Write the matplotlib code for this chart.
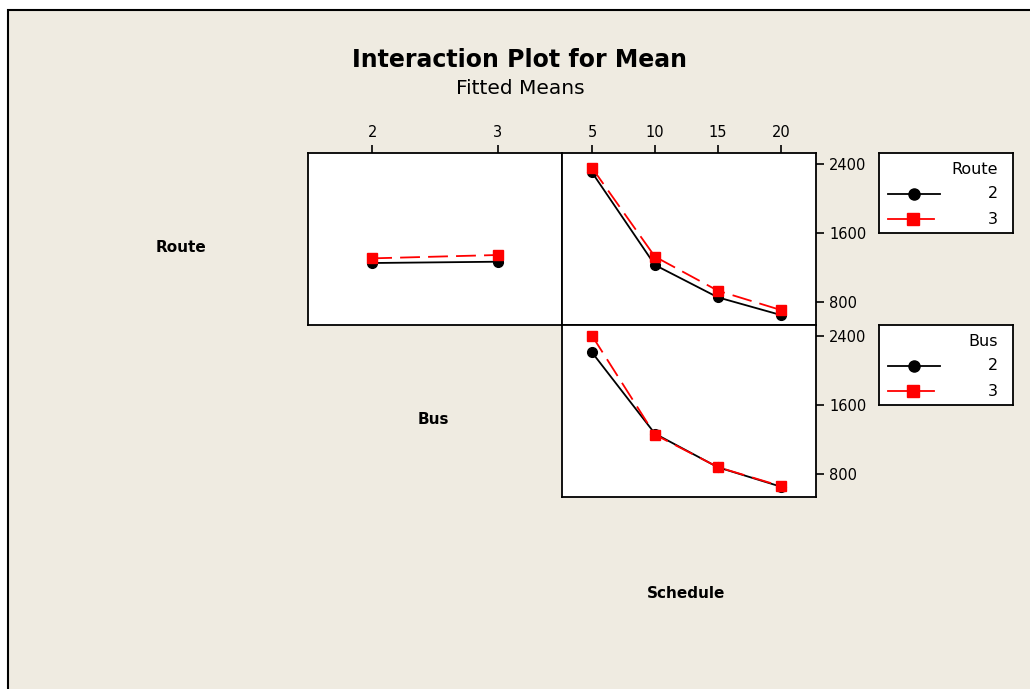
import matplotlib.pyplot as plt
from matplotlib.patches import Rectangle

W, H = 1030, 689

# factor levels
bus_levels = [2, 3]
schedule_levels = [5, 10, 15, 20]

# fitted means, Route on the lines vs Bus
route2_by_bus = [1252, 1267]
route3_by_bus = [1306, 1345]

# fitted means, Route on the lines vs Schedule
route2_by_sched = [2304, 1229, 854, 649]
route3_by_sched = [2357, 1326, 931, 707]

# fitted means, Bus on the lines vs Schedule
bus2_by_sched = [2211, 1268, 878, 653]
bus3_by_sched = [2405, 1256, 880, 660]

mean_ticks = [800, 1600, 2400]
ylim = (533, 2528)

bg = '#efebe1'
plt.rcParams['font.family'] = 'DejaVu Sans'

fig = plt.figure(figsize=(W / 100, H / 100), dpi=100, facecolor='white')

# beige panel with its black frame
fig.patches.append(Rectangle((8 / W, -0.1), 1.2, (H - 10) / H + 0.1,
                             transform=fig.transFigure, facecolor=bg,
                             edgecolor='black', linewidth=1.5, zorder=-10))


def px_axes(x0, y0, x1, y1):
    return fig.add_axes([x0 / W, (H - y1) / H, (x1 - x0) / W, (y1 - y0) / H])


def style(ax):
    ax.set_facecolor('white')
    for s in ax.spines.values():
        s.set_linewidth(1.3)
    ax.tick_params(length=6, width=1.2, labelsize=10.5, direction='out')


def draw_pair(ax, x, ya, yb):
    ax.plot(x, ya, color='black', lw=1.3, marker='o', ms=7, zorder=3)
    ax.plot(x, yb, color='red', lw=1.3, marker='s', ms=7.5,
            dashes=(11, 4.5), zorder=4)


# Route vs Bus
ax1 = px_axes(308, 153, 562, 325)
style(ax1)
draw_pair(ax1, bus_levels, route2_by_bus, route3_by_bus)
ax1.set_xlim(1.49, 3.51)
ax1.set_ylim(*ylim)
ax1.set_xticks(bus_levels)
ax1.xaxis.tick_top()
ax1.set_yticks([])

# Route vs Schedule
ax2 = px_axes(562, 153, 816, 325)
style(ax2)
draw_pair(ax2, schedule_levels, route2_by_sched, route3_by_sched)
ax2.set_xlim(2.62, 22.8)
ax2.set_ylim(*ylim)
ax2.set_xticks(schedule_levels)
ax2.xaxis.tick_top()
ax2.yaxis.tick_right()
ax2.set_yticks(mean_ticks)

# Bus vs Schedule
ax3 = px_axes(562, 325, 816, 497)
style(ax3)
draw_pair(ax3, schedule_levels, bus2_by_sched, bus3_by_sched)
ax3.set_xlim(2.62, 22.8)
ax3.set_ylim(*ylim)
ax3.set_xticks([])
ax3.yaxis.tick_right()
ax3.set_yticks(mean_ticks)


def legend_box(y0, title):
    lg = px_axes(879, y0, 1013, y0 + 80)
    lg.set_xlim(0, 134)
    lg.set_ylim(80, 0)
    lg.set_xticks([])
    lg.set_yticks([])
    for s in lg.spines.values():
        s.set_linewidth(1.3)
    lg.text(119, 17, title, ha='right', va='center', fontsize=11.5)
    lg.plot([9, 61], [41, 41], color='black', lw=1.3)
    lg.plot([35], [41], 'o', color='black', ms=8)
    lg.plot([9, 55], [66, 66], color='red', lw=1.3)
    lg.plot([34], [66], 's', color='red', ms=8)
    lg.text(119, 41, '2', ha='right', va='center', fontsize=11.5)
    lg.text(119, 66, '3', ha='right', va='center', fontsize=11.5)


legend_box(153, 'Route')
legend_box(325, 'Bus')

# titles and factor names
fig.text(520 / W, 1 - 60 / H, 'Interaction Plot for Mean', ha='center',
         va='center', fontsize=17, fontweight='bold')
fig.text(520 / W, 1 - 89 / H, 'Fitted Means', ha='center', va='center',
         fontsize=14.5)
fig.text(181 / W, 1 - 248 / H, 'Route', ha='center', va='center',
         fontsize=11, fontweight='bold')
fig.text(433 / W, 1 - 420 / H, 'Bus', ha='center', va='center',
         fontsize=11, fontweight='bold')
fig.text(686 / W, 1 - 593 / H, 'Schedule', ha='center', va='center',
         fontsize=11, fontweight='bold')

fig.savefig('out.png', dpi=100, facecolor='white')
